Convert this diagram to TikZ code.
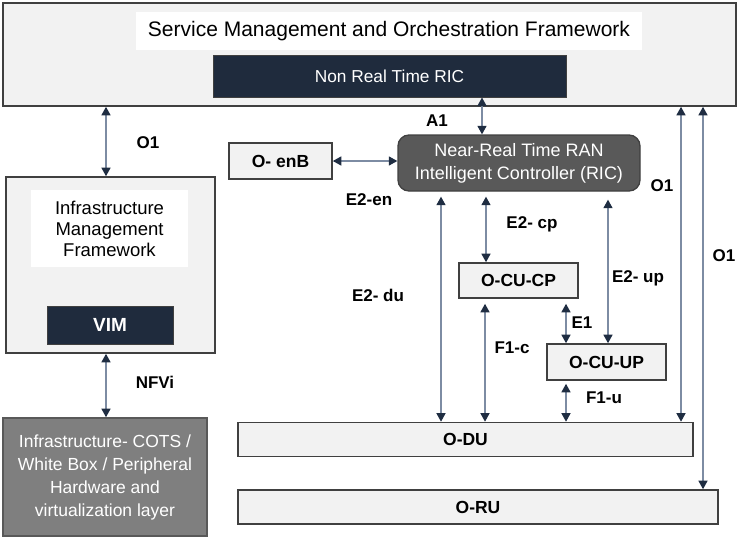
\documentclass[tikz,border=0pt]{standalone}
\usepackage{fontspec}
\setmainfont{Liberation Sans}
\usetikzlibrary{arrows.meta}
\definecolor{paneGray}{HTML}{F2F2F2}
\definecolor{edgeGray}{HTML}{404040}
\definecolor{navyFill}{HTML}{1F2B3D}
\definecolor{ricGray}{HTML}{595959}
\definecolor{hwGray}{HTML}{7F7F7F}
\definecolor{shaftBlue}{HTML}{7D8CA3}
\definecolor{tipNavy}{HTML}{1F2D42}
\begin{document}
\begin{tikzpicture}[x=1pt, y=-1pt,
    frameStyle/.style={rectangle, draw=edgeGray, line width=1.6pt, fill=paneGray, inner sep=0pt},
    whiteStyle/.style={rectangle, fill=white, inner sep=0pt, align=center},
    navyStyle/.style={rectangle, draw=edgeGray, line width=1pt, fill=navyFill, text=white, inner sep=0pt},
    unitStyle/.style={frameStyle, font=\fontsize{17.5}{20}\selectfont\bfseries},
    ifStyle/.style={inner sep=0pt, font=\fontsize{17}{20}\selectfont\bfseries},
    linkStyle/.style={draw=shaftBlue, line width=1.3pt, {Triangle[width=9pt, length=8.5pt, color=tipNavy]}-{Triangle[width=9pt, length=8.5pt, color=tipNavy]}}]
    \useasboundingbox (0,0) rectangle (740,560);

    % SMO
    \node[frameStyle, minimum width=733pt, minimum height=103pt] (smo) at (369.5, 54.5) {};
    \node[whiteStyle, minimum width=506pt, minimum height=38pt, font=\fontsize{21}{24}\selectfont] (smo_T) at (389, 31) {Service Management and Orchestration Framework};
    \node[navyStyle, minimum width=353pt, minimum height=42pt, font=\fontsize{17.3}{20}\selectfont] (nonrt) at (389.5, 76) {Non Real Time RIC};

    % infrastructure side
    \node[frameStyle, minimum width=209pt, minimum height=176pt] (imf) at (110.5, 265) {};
    \node[whiteStyle, minimum width=157pt, minimum height=77pt, font=\fontsize{18.5}{21}\selectfont] (imf_T) at (109.5, 228.5) {Infrastructure\\Management\\Framework};
    \node[navyStyle, minimum width=126pt, minimum height=38pt, font=\fontsize{19}{21}\selectfont\bfseries] (vim) at (110, 325) {VIM};
    \node[rectangle, draw=ricGray, line width=1.6pt, fill=hwGray, text=white, inner sep=0pt, align=center,
          minimum width=204pt, minimum height=118pt, font=\fontsize{17.5}{23}\selectfont] (infra) at (105, 477)
          {Infrastructure- COTS /\\White Box / Peripheral\\Hardware and\\virtualization layer};

    % RAN side
    \node[unitStyle, minimum width=103pt, minimum height=36pt] (oenb) at (280.5, 161) {O- enB};
    \node[rectangle, rounded corners=11pt, draw=edgeGray, line width=1.3pt, fill=ricGray, text=white, inner sep=0pt, align=center,
          minimum width=242pt, minimum height=56pt, font=\fontsize{18}{23}\selectfont] (ric) at (519, 163)
          {Near-Real Time RAN\\Intelligent Controller (RIC)};
    \node[unitStyle, minimum width=119pt, minimum height=35pt] (cucp) at (518.5, 280.5) {O-CU-CP};
    \node[unitStyle, minimum width=119pt, minimum height=36pt] (cuup) at (606.5, 362) {O-CU-UP};
    \node[unitStyle, minimum width=455pt, minimum height=34pt] (odu) at (465.5, 439.5) {O-DU};
    \node[unitStyle, minimum width=480pt, minimum height=34pt] (oru) at (478, 507) {O-RU};

    % interfaces
    \draw[linkStyle] (106,0 |- smo.south) -- (106,0 |- imf.north);
    \draw[linkStyle] (106,0 |- imf.south) -- (106,0 |- infra.north);
    \draw[linkStyle] (482,0 |- nonrt.south) -- (482,0 |- ric.north);
    \draw[linkStyle] (oenb.east) -- (ric.west |- oenb.east);
    \draw[linkStyle, shorten <=5pt] (441,0 |- ric.south) -- (441,0 |- odu.north);
    \draw[linkStyle, shorten <=5pt] (486,0 |- ric.south) -- (486,0 |- cucp.north);
    \draw[linkStyle, shorten <=8pt] (608,0 |- ric.south) -- (608,0 |- cuup.north);
    \draw[linkStyle, shorten <=5pt] (566,0 |- cucp.south) -- (566,0 |- cuup.north);
    \draw[linkStyle, shorten <=5pt] (485,0 |- cucp.south) -- (485,0 |- odu.north);
    \draw[linkStyle, shorten <=3pt] (566,0 |- cuup.south) -- (566,0 |- odu.north);
    \draw[linkStyle] (681,0 |- smo.south) -- (681,0 |- odu.north);
    \draw[linkStyle] (703,0 |- smo.south) -- (703,0 |- oru.north);

    \node[ifStyle] (o1_L) at (148, 143) {O1};
    \node[ifStyle] (nfvi) at (155, 382) {NFVi};
    \node[ifStyle] (a1) at (437, 121) {A1};
    \node[ifStyle] (e2en) at (369, 200) {E2-en};
    \node[ifStyle] (e2du) at (378, 295) {E2- du};
    \node[ifStyle] (e2cp) at (532, 224) {E2- cp};
    \node[ifStyle] (e2up) at (638, 278) {E2- up};
    \node[ifStyle] (e1) at (582, 323) {E1};
    \node[ifStyle] (f1c) at (512, 348) {F1-c};
    \node[ifStyle] (f1u) at (604, 398) {F1-u};
    \node[ifStyle] (o1_R1) at (662, 186) {O1};
    \node[ifStyle] (o1_R2) at (724, 256) {O1};
\end{tikzpicture}
\end{document}
